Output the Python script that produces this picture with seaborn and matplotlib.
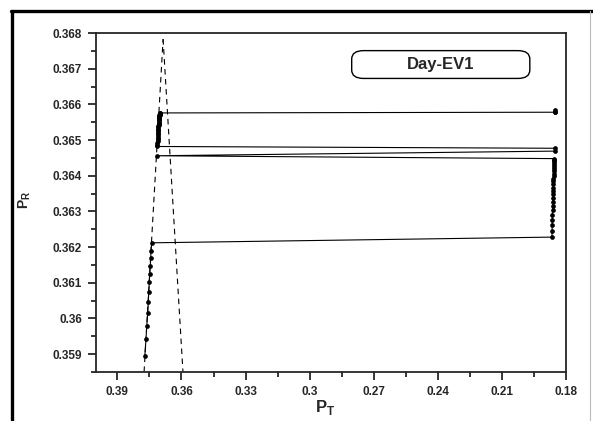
import matplotlib
matplotlib.use("Agg")
import numpy as np
import pandas as pd
import seaborn as sns
import matplotlib.pyplot as plt
from matplotlib.lines import Line2D
from matplotlib.patches import FancyBboxPatch
from matplotlib.ticker import MultipleLocator, FuncFormatter

# lower-left branch (P_T, P_R)
left_x = [0.37715, 0.37659, 0.37626, 0.37580, 0.37552, 0.37533,
          0.37505, 0.37486, 0.37458, 0.37439, 0.37425, 0.37392]
left_y = [0.35896, 0.35943, 0.35978, 0.36014, 0.36045, 0.36073,
          0.36101, 0.36126, 0.36148, 0.36170, 0.36190, 0.36212]

# right column
right_x = [0.1866, 0.1865, 0.1865, 0.1864, 0.1864, 0.1863, 0.1863, 0.1862,
           0.1862, 0.1861, 0.1861, 0.1860, 0.1860, 0.1859, 0.1859, 0.1858,
           0.1858, 0.1857, 0.1857, 0.1857, 0.1856, 0.1856, 0.1856, 0.1855, 0.1855]
right_y = [0.36228, 0.36245, 0.36261, 0.36276, 0.36290, 0.36303, 0.36315,
           0.36327, 0.36338, 0.36348, 0.36358, 0.36367, 0.36376, 0.36384,
           0.36392, 0.36399, 0.36406, 0.36413, 0.36419, 0.36425, 0.36431,
           0.36436, 0.36441, 0.36445, 0.36448]

# back and forth jumps
jump_x = [0.3716, 0.1852, 0.1852]
jump_y = [0.36456, 0.36469, 0.36477]

# upper-left cluster (dense)
upper_x = [0.3713, 0.37126, 0.37122, 0.37118, 0.37114, 0.3711, 0.37106, 0.37102,
           0.37098, 0.37094, 0.3709, 0.37086, 0.37082, 0.37078, 0.37074, 0.3707,
           0.37066, 0.37062, 0.37058, 0.37054, 0.3705, 0.37046, 0.37042, 0.37038,
           0.37034, 0.3703, 0.37026, 0.37021, 0.37016, 0.3701, 0.37005]
upper_y = [0.36482, 0.36487, 0.36492, 0.36497, 0.36502, 0.36507, 0.36511, 0.36516,
           0.36520, 0.36524, 0.36528, 0.36532, 0.36536, 0.36540, 0.36543, 0.36546,
           0.36549, 0.36552, 0.36555, 0.36558, 0.36560, 0.36562, 0.36564, 0.36566,
           0.36568, 0.36570, 0.36571, 0.36573, 0.36574, 0.36575, 0.36576]

# last jump to the right
end_x = [0.1852, 0.1852, 0.1852]
end_y = [0.36578, 0.36580, 0.36583]

# dashed guide lines
dash_a_x = [0.3775, 0.3686]
dash_a_y = [0.3585, 0.36783]
dash_b_x = [0.3686, 0.3593]
dash_b_y = [0.36783, 0.3585]

x_ticks = [0.39, 0.36, 0.33, 0.3, 0.27, 0.24, 0.21, 0.18]
y_ticks = [0.359, 0.36, 0.361, 0.362, 0.363, 0.364, 0.365, 0.366, 0.367, 0.368]

traj = pd.DataFrame({
    "PT": left_x + right_x + jump_x + upper_x + end_x,
    "PR": left_y + right_y + jump_y + upper_y + end_y,
})

sns.set_style("ticks")
plt.rcParams["font.family"] = ["Liberation Sans", "DejaVu Sans"]

fig = plt.figure(figsize=(5.93, 4.21), dpi=100)
ax = fig.add_axes([0.1619, 0.1164, 0.7926, 0.8052])

ax.plot(dash_a_x, dash_a_y, color="black", lw=0.8, dashes=(5, 4))
ax.plot(dash_b_x, dash_b_y, color="black", lw=0.8, dashes=(5, 4))

sns.lineplot(data=traj, x="PT", y="PR", sort=False, estimator=None, ax=ax,
             color="black", linewidth=0.8, marker="o", markersize=3.4,
             markeredgewidth=0)

ax.set_xlim(0.4, 0.18)
ax.set_ylim(0.3585, 0.368)
ax.set_xticks(x_ticks)
ax.set_yticks(y_ticks)
ax.xaxis.set_minor_locator(MultipleLocator(0.015))
ax.yaxis.set_minor_locator(MultipleLocator(0.0005))
ax.xaxis.set_major_formatter(FuncFormatter(lambda v, p: "%g" % round(v, 3)))
ax.yaxis.set_major_formatter(FuncFormatter(lambda v, p: "%g" % round(v, 4)))
ax.tick_params(which="major", length=6, width=1.3, labelsize=8.5, pad=4)
ax.tick_params(which="minor", length=3.5, width=1.3)
for lab in ax.get_xticklabels() + ax.get_yticklabels():
    lab.set_fontweight("bold")
for sp in ax.spines.values():
    sp.set_linewidth(1.3)
    sp.set_visible(True)

ax.set_xlabel(r"P$_{\mathregular{T}}$", fontsize=12, fontweight="bold")
ax.set_ylabel(r"P$_{\mathregular{R}}$", fontsize=10, fontweight="bold")
ax.xaxis.set_label_coords(0.487, -0.077)
ax.yaxis.set_label_coords(-0.134, 0.507)

box = FancyBboxPatch((0.544, 0.866), 0.379, 0.082,
                     boxstyle="round,pad=0,rounding_size=0.025",
                     transform=ax.transAxes, facecolor="white",
                     edgecolor="black", lw=1.0, zorder=5)
ax.add_patch(box)
ax.text(0.7335, 0.907, "Day-EV1", transform=ax.transAxes, ha="center",
        va="center", fontsize=12, fontweight="bold", zorder=6)

# outer frame
fig.add_artist(Line2D([12 / 593, 12 / 593], [0, 1 - 10.5 / 421],
                      color="black", lw=2.4, transform=fig.transFigure))
fig.add_artist(Line2D([11 / 593, 1], [1 - 10.5 / 421, 1 - 10.5 / 421],
                      color="black", lw=2.4, transform=fig.transFigure))
fig.add_artist(Line2D([590 / 593, 590 / 593], [0, 1 - 10.5 / 421],
                      color="#bbbbbb", lw=0.8, transform=fig.transFigure))

fig.savefig("out.png", dpi=100)
